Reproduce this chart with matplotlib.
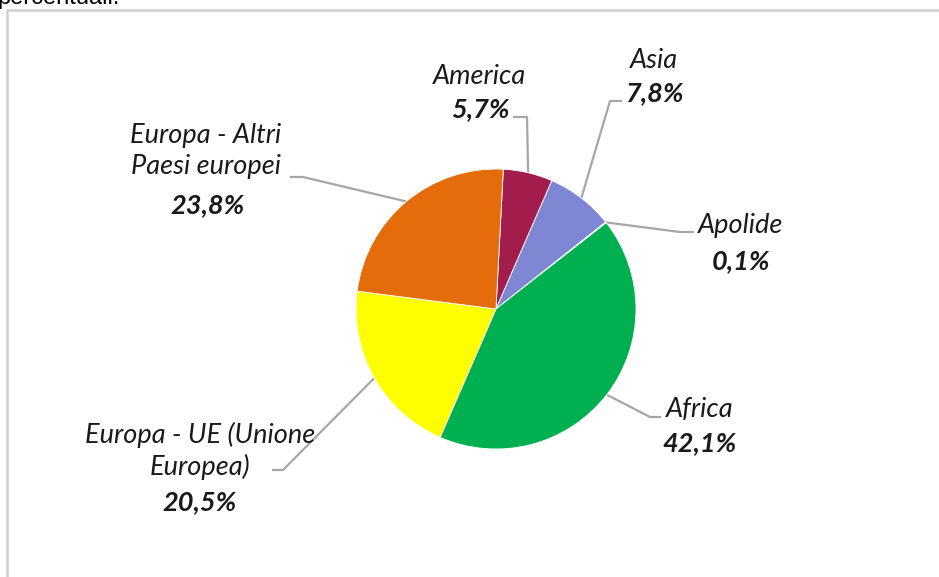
import matplotlib
matplotlib.use("Agg")
import matplotlib.pyplot as plt
import numpy as np

categories = ["America", "Asia", "Apolide", "Africa",
              "Europa - UE (Unione\nEuropea)", "Europa - Altri\nPaesi europei"]
values = [5.7, 7.8, 0.1, 42.1, 20.5, 23.8]
pct_labels = ["5,7%", "7,8%", "0,1%", "42,1%", "20,5%", "23,8%"]
colors = ["#A21D4B", "#7F86D4", "#A5A5A5", "#00B050", "#FFFF00", "#E46C0A"]

W, H = 939, 577
fig = plt.figure(figsize=(W / 100, H / 100), dpi=100)
ax = fig.add_axes([0, 0, 1, 1])

def py(y):
    return H - y

cx, cy, R = 496, py(309), 140
wedges, _ = ax.pie(values, colors=colors, startangle=87, counterclock=False,
                   center=(cx, cy), radius=R, frame=True,
                   wedgeprops=dict(linewidth=0.6, edgecolor="white"))
ax.set_xlim(0, W)
ax.set_ylim(0, H)
ax.set_aspect("equal")
ax.axis("off")

font = "Lato"
fs = 19.5
name_pos = [(480, 76), (654, 60), (741, 226), (700, 409), (200, 451), (206, 151)]
pct_pos = [(480, 109), (655, 93), (741, 261), (700, 443), (200, 502), (208, 205)]
# leader elbows (pixel coords): label end, elbow
leaders = [
    [(513, 117), (527, 117)],
    [(622, 101), (610, 101)],
    [(694, 232), (680, 232)],
    [(661, 417), (650, 417)],
    [(272, 470), (283, 470)],
    [(290, 177), (303, 177)],
]

for i, w in enumerate(wedges):
    mid = np.deg2rad((w.theta1 + w.theta2) / 2)
    ex, ey = cx + R * np.cos(mid), cy + R * np.sin(mid)
    pts = leaders[i]
    xs = [pts[0][0], pts[1][0], ex]
    ys = [py(pts[0][1]), py(pts[1][1]), ey]
    ax.plot(xs, ys, color="#A6A6A6", lw=1.6, solid_capstyle="butt", zorder=1)
    ax.text(name_pos[i][0], py(name_pos[i][1]), categories[i], ha="center", va="center",
            fontsize=fs, style="italic", family=font, color="#1a1a1a",
            linespacing=1.3, multialignment="center", zorder=3)
    ax.text(pct_pos[i][0], py(pct_pos[i][1]), pct_labels[i], ha="center", va="center",
            fontsize=fs, style="italic", weight="bold", family=font, color="#1a1a1a",
            zorder=3)

for w in wedges:
    w.set_zorder(2)

# surrounding frame and clipped caption
ax.plot([7, 7, W + 5], [-5, py(10), py(10)], color="#CFCFCF", lw=1.8, zorder=0)
fig.text(-0.003, 1 - 4 / H, "percentuali.", ha="left", va="baseline",
         fontsize=17, family="Liberation Sans", color="black")

fig.savefig("out.png", dpi=100)
